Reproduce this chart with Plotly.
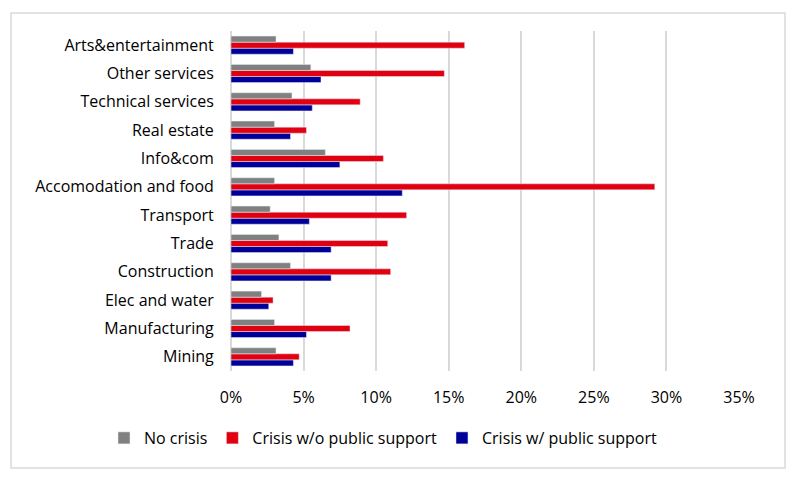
import plotly.graph_objects as go

categories = ["Mining", "Manufacturing", "Elec and water", "Construction", "Trade", "Transport",
              "Accomodation and food", "Info&com", "Real estate", "Technical services",
              "Other services", "Arts&entertainment"]
no_crisis = [0.031, 0.030, 0.021, 0.041, 0.033, 0.027, 0.030, 0.065, 0.030, 0.042, 0.055, 0.031]
crisis_no_support = [0.047, 0.082, 0.029, 0.110, 0.108, 0.121, 0.292, 0.105, 0.052, 0.089, 0.147, 0.161]
crisis_support = [0.043, 0.052, 0.026, 0.069, 0.069, 0.054, 0.118, 0.075, 0.041, 0.056, 0.062, 0.043]
tick_vals = [0, 0.05, 0.10, 0.15, 0.20, 0.25, 0.30, 0.35]
tick_text = ["0%", "5%", "10%", "15%", "20%", "25%", "30%", "35%"]

fig = go.Figure()
fig.add_trace(go.Bar(y=categories, x=crisis_support, orientation="h", name="Crisis w/ public support",
                     marker=dict(color="#000099"), legendrank=3))
fig.add_trace(go.Bar(y=categories, x=crisis_no_support, orientation="h", name="Crisis w/o public support",
                     marker=dict(color="#e00010"), legendrank=2))
fig.add_trace(go.Bar(y=categories, x=no_crisis, orientation="h", name="No crisis",
                     marker=dict(color="#808080"), legendrank=1))

fig.update_layout(
    width=796, height=481,
    barmode="group", bargap=0.36, bargroupgap=0,
    plot_bgcolor="white", paper_bgcolor="white",
    margin=dict(l=223, r=65, t=23, b=118),
    font=dict(family="Open Sans", size=16, color="#000000"),
    xaxis=dict(range=[0, 0.35], tickvals=tick_vals, ticktext=tick_text, showgrid=True,
               gridcolor="#d9d9d9", gridwidth=2, zeroline=True, zerolinecolor="#d9d9d9",
               zerolinewidth=2, showline=False, ticks="outside", ticklen=12, tickcolor="white"),
    yaxis=dict(showgrid=False, showline=False, ticks="outside", ticklen=13, tickcolor="white"),
    legend=dict(orientation="h", x=-0.25, xanchor="left", y=-0.197, yanchor="middle",
                font=dict(size=16), itemwidth=30, traceorder="normal"),
    showlegend=True,
    shapes=[dict(type="rect", xref="paper", yref="paper", x0=-0.433, x1=1.0906, y0=-0.285, y1=1.053,
                 line=dict(color="#d9d9d9", width=1.5), fillcolor="rgba(0,0,0,0)", layer="below")],
)
fig.write_html("out.html")
